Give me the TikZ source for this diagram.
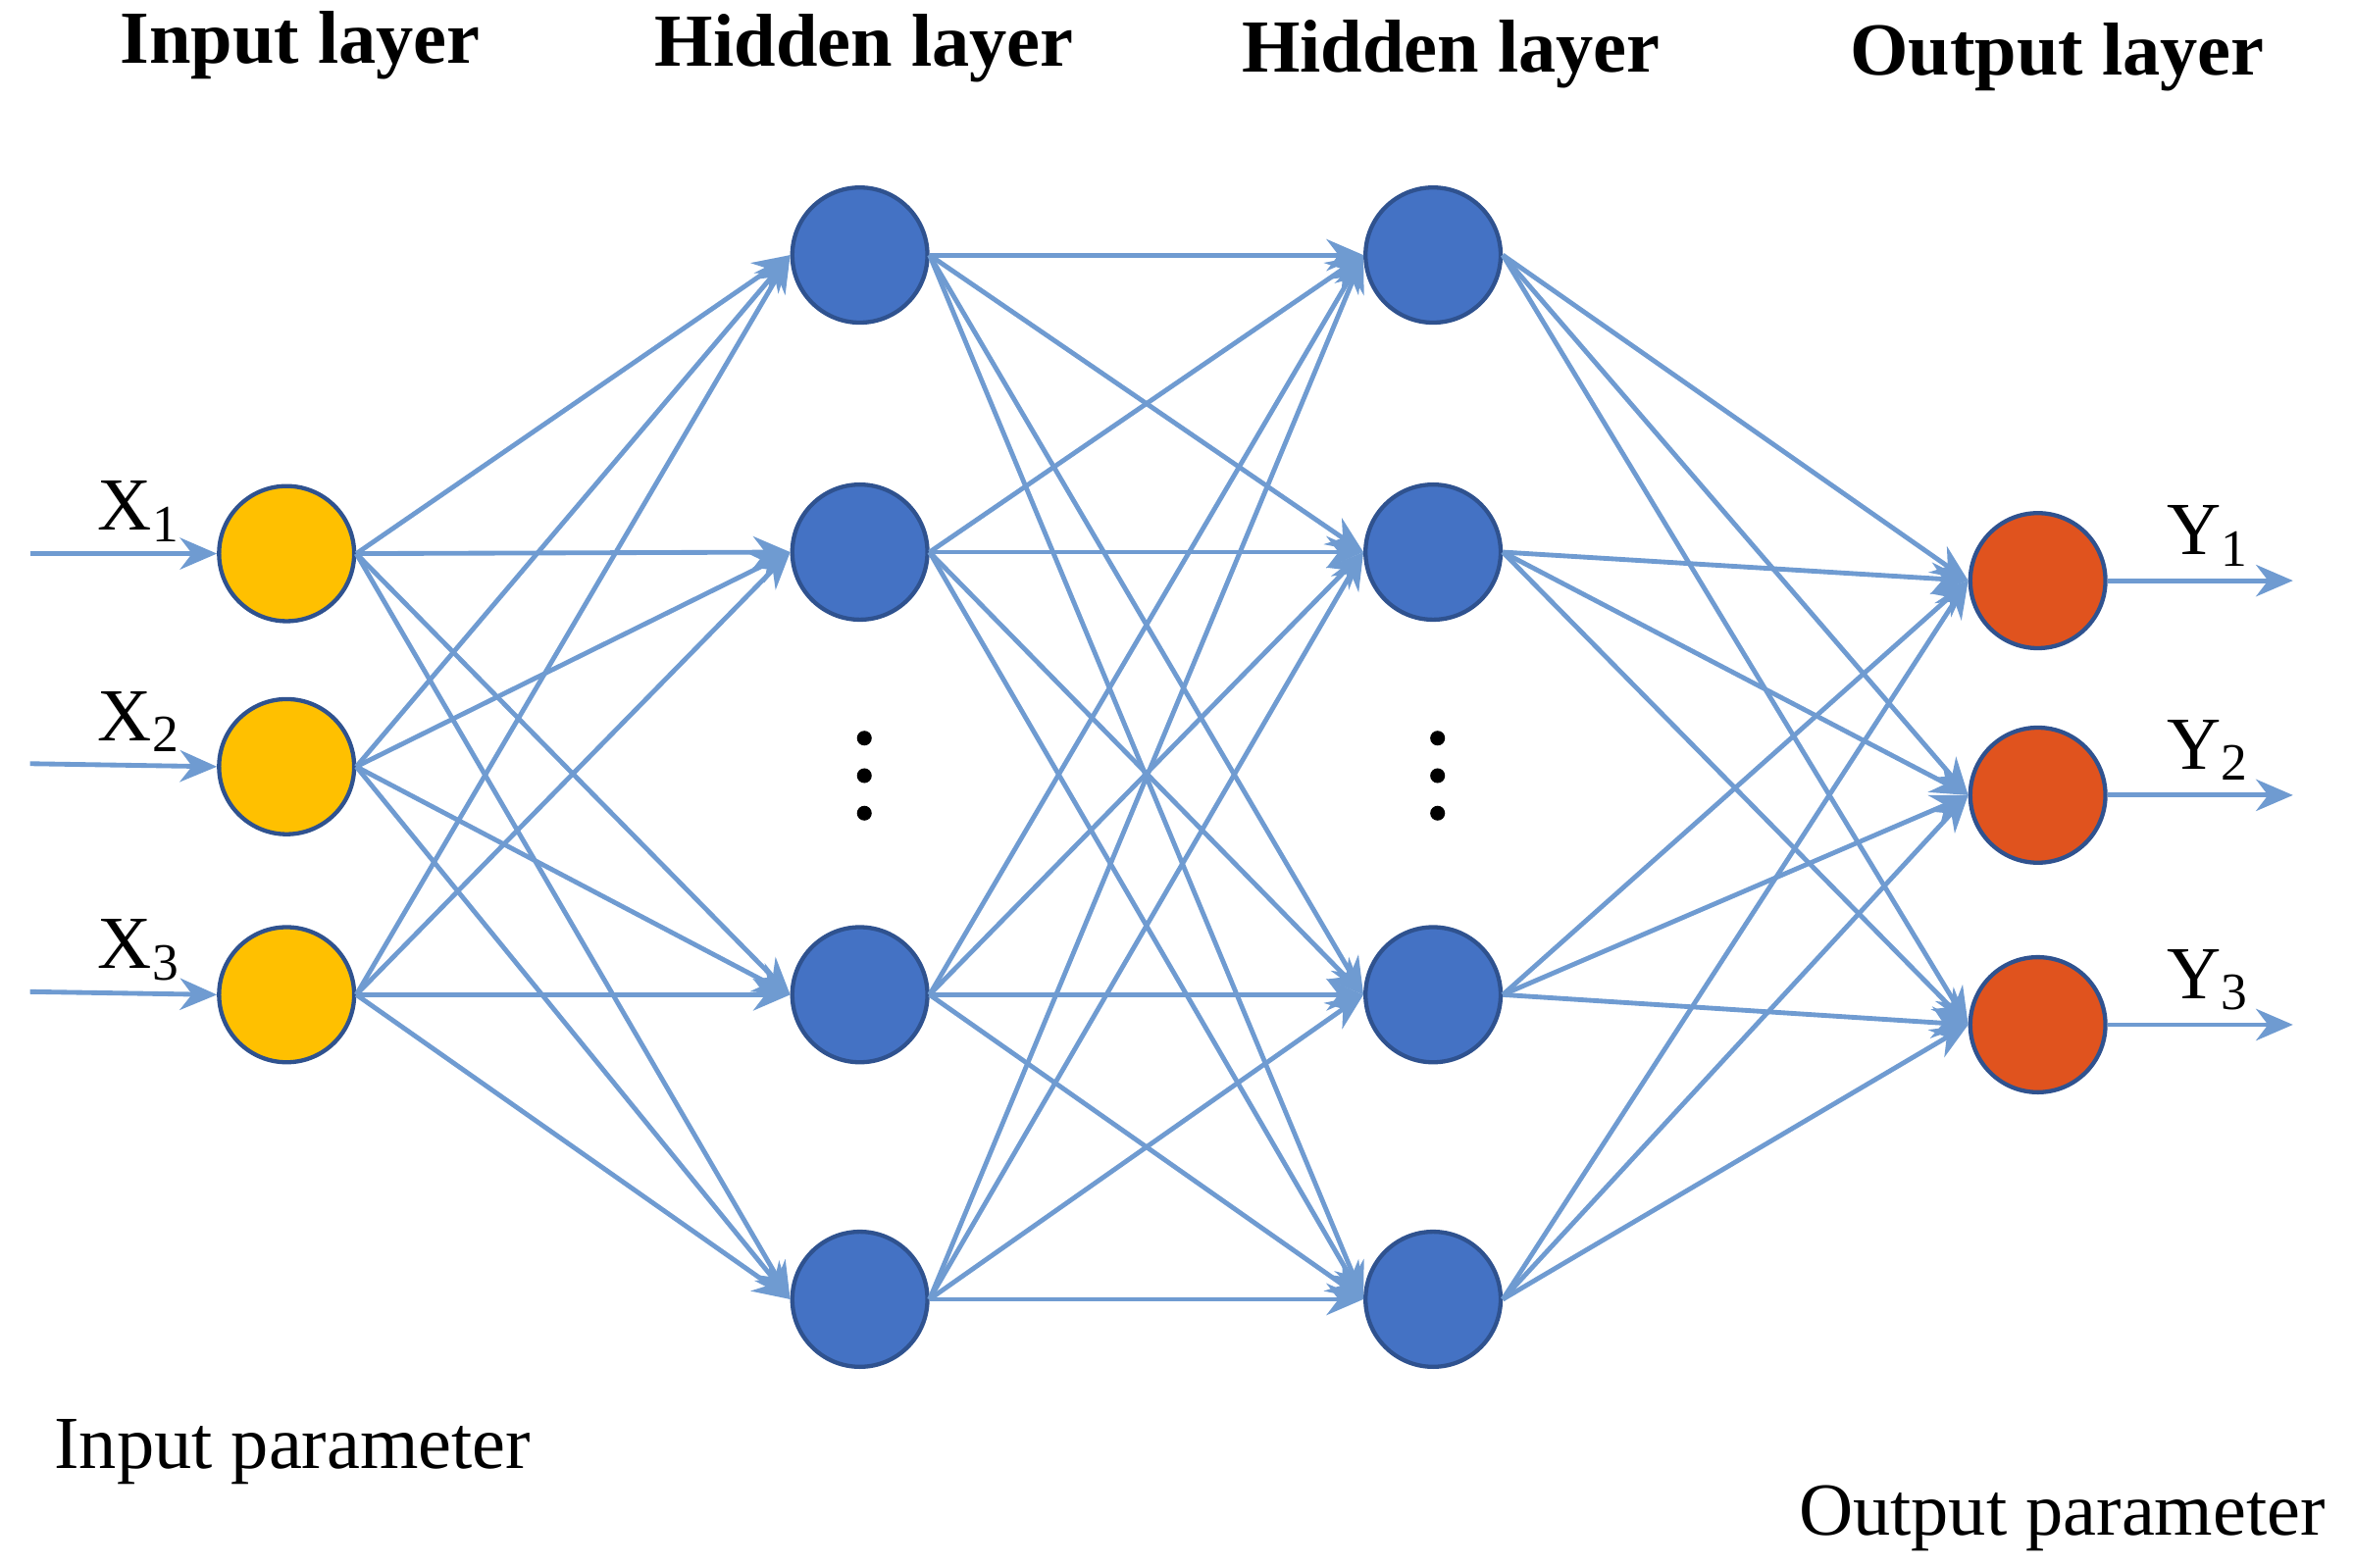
\documentclass[tikz,border=0pt]{standalone}
\usepackage{fontspec}
\setmainfont{Liberation Serif}
\usetikzlibrary{arrows.meta}
\definecolor{edgeblue}{HTML}{6F9BD1}
\definecolor{nodeblue}{HTML}{4472C4}
\definecolor{nodeyellow}{HTML}{FFC000}
\definecolor{nodered}{HTML}{E0531E}
\definecolor{rimblue}{HTML}{2F528F}
\begin{document}
\begin{tikzpicture}[x=0.01cm,y=-0.01cm,
  neuron/.style={circle,draw=rimblue,line width=0.8pt,minimum size=0.9cm,inner sep=0pt},
  conn/.style={draw=edgeblue,line width=0.9pt,-{Stealth[length=7pt,width=6pt]}},
  title/.style={font=\fontsize{14.2}{17}\selectfont\bfseries},
  lab/.style={font=\fontsize{14.2}{17}\selectfont}]
\useasboundingbox (0,0) rectangle (1568,1045);
% titles
\node[title] at (200,30) {Input layer};
\node[title] at (576,32) {Hidden layer};
\node[title] at (967,36) {Hidden layer};
\node[title] at (1371,38) {Output layer};
\node[lab] at (195,968) {Input parameter};
\node[lab,anchor=east] at (1562,1012) {Output parameter};
% neurons
\foreach \i/\y in {1/369,2/511,3/663}
  \node[neuron,fill=nodeyellow] (i\i) at (191,\y) {};
\foreach \i/\y in {1/170,2/368,3/663,4/866}{
  \node[neuron,fill=nodeblue] (a\i) at (573,\y) {};
  \node[neuron,fill=nodeblue] (b\i) at (955,\y) {};}
\foreach \i/\y in {1/387,2/530,3/683}
  \node[neuron,fill=nodered] (o\i) at (1358,\y) {};
% vertical dots
\foreach \x in {576,958}
  \foreach \y in {492,517,542} \fill (\x,\y) circle (1.4pt);
% connections
\foreach \s in {1,2,3} \foreach \t in {1,2,3,4} \draw[conn] (i\s.east) -- (a\t.west);
\foreach \s in {1,2,3,4} \foreach \t in {1,2,3,4} \draw[conn] (a\s.east) -- (b\t.west);
\foreach \s in {1,2,3,4} \foreach \t in {1,2,3} \draw[conn] (b\s.east) -- (o\t.west);
% inputs and outputs
\foreach \i/\y in {1/369,2/509,3/661}{
  \coordinate (xin\i) at (20,\y);
  \draw[conn] (xin\i) -- (i\i.west);
  \node[lab] at (93,\y-28) {X\textsubscript{\i}};}
\foreach \i/\y in {1/387,2/530,3/683}{
  \coordinate (yout\i) at (1528,\y);
  \draw[conn] (o\i.east) -- (yout\i);
  \node[lab] at (1472,\y-30) {Y\textsubscript{\i}};}
\end{tikzpicture}
\end{document}
